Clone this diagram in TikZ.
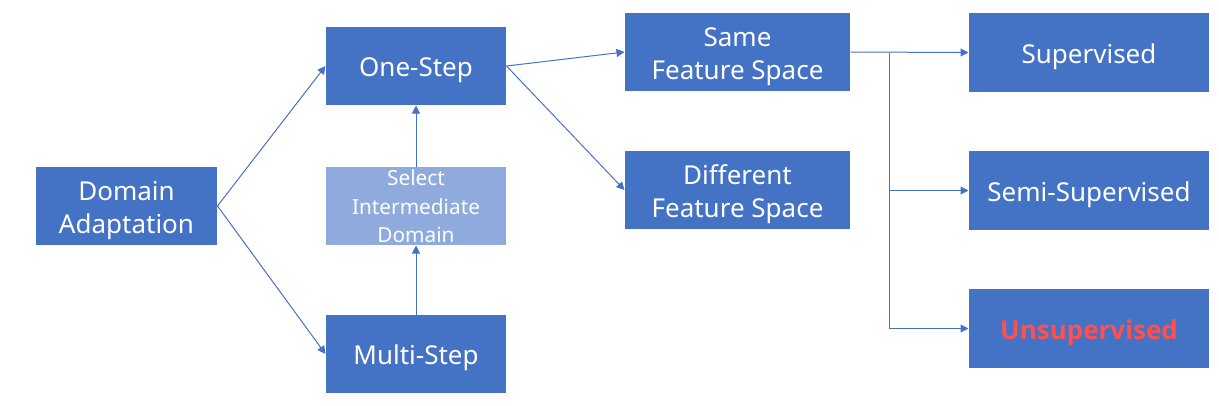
\documentclass[tikz,border=0pt]{standalone}
\usepackage{fontspec}
\setmainfont{Noto Sans}
\newfontfamily\heavyfont{Open Sans}
\usetikzlibrary{arrows.meta}

\definecolor{boxblue}{RGB}{68,114,196}
\definecolor{lightblue}{RGB}{143,170,220}
\definecolor{hlred}{RGB}{255,80,80}

% pushes the text of a box down to where the boxes of the reference keep it
\newcommand\boxlift[1][20.9pt]{\rule{0pt}{#1}}

\tikzset{every picture/.style={line width=0.75pt}}

\begin{document}
\begin{tikzpicture}[x=0.75pt,y=0.75pt,yscale=-1,xscale=1,
  box/.style={draw=none,fill=boxblue,text=white,align=center,inner sep=0pt,
    minimum width=135pt,minimum height=58.5pt,font=\fontsize{19.5}{25}\selectfont},
  widebox/.style={box,minimum width=168.75pt},
  leafbox/.style={box,minimum width=180pt,minimum height=59.25pt},
  arr/.style={draw=boxblue,line width=0.75pt,-{Triangle[length=6pt,width=6pt]}}]
\useasboundingbox (0,0) rectangle (1219,405);

% Boxes
\node [box,minimum width=135.75pt] (domain) at (126.5,206) {\boxlift Domain\\Adaptation};
\node [box] (onestep) at (416,66) {\boxlift One-Step};
\node [box,fill=lightblue,font=\fontsize{15.6}{21.6}\selectfont] (select) at (416,206) {\boxlift[12.4pt]Select\\Intermediate\\Domain};
\node [box] (multistep) at (416,354) {\boxlift Multi-Step};
\node [widebox] (same) at (737.5,52) {\boxlift Same\\Feature Space};
\node [widebox] (diff) at (737.5,190) {\boxlift Different\\Feature Space};
\node [leafbox] (sup) at (1089,52.5) {\boxlift Supervised};
\node [leafbox] (semi) at (1089,190.5) {\boxlift Semi-Supervised};
\node [leafbox,text=hlred,font=\fontsize{19.5}{25}\heavyfont\bfseries] (unsup) at (1089,328.5) {\boxlift Unsupervised};

% Arrows
\draw [arr] (domain.east) -- (onestep.west);
\draw [arr] (domain.east) -- (multistep.west);
\draw [arr] (multistep.north) -- (select.south);
\draw [arr] (select.north) -- (onestep.south);
\draw [arr] (onestep.east) -- (same.west);
\draw [arr] (onestep.east) -- (diff.west);

% Branch to the three settings
\coordinate (branch) at (889,52.5);
\draw [arr] (same.east) -- (sup.west);
\draw [arr] (branch) |- (semi.west);
\draw [arr] (branch) |- (unsup.west);

\end{tikzpicture}
\end{document}
